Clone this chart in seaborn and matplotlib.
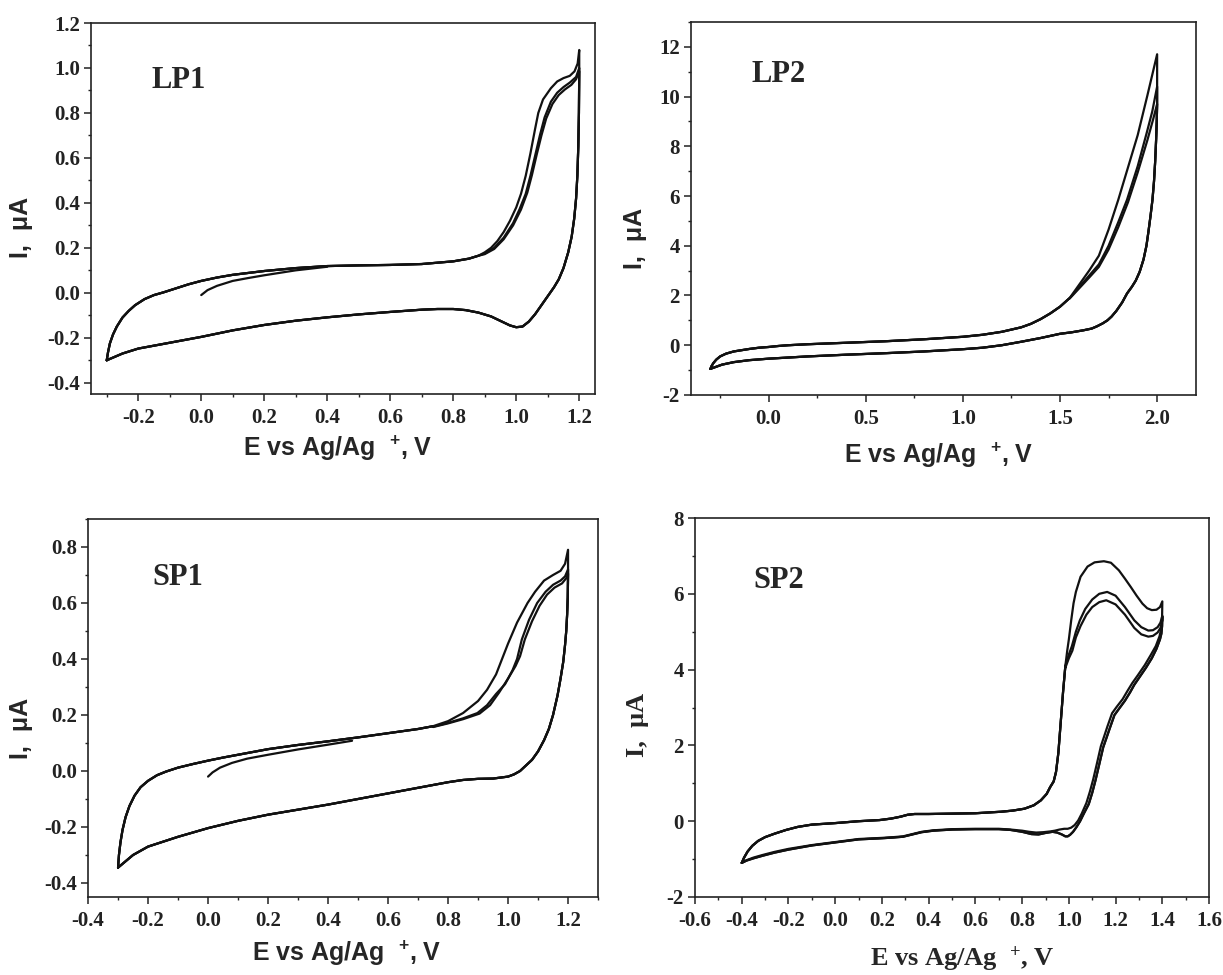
import matplotlib
matplotlib.use("Agg")
import numpy as np
import pandas as pd
import matplotlib.pyplot as plt
from matplotlib.ticker import MultipleLocator, FuncFormatter
import seaborn as sns

# ------------------------------------------------------------------
# LP1  (E in V, I in uA)
# ------------------------------------------------------------------
lp1_start_E = [0.00, 0.02, 0.05, 0.10, 0.15, 0.20, 0.30, 0.40]
lp1_start_I = [-0.010, 0.012, 0.031, 0.053, 0.066, 0.078, 0.100, 0.116]

lp1_fwd_E = [-0.300, -0.296, -0.290, -0.280, -0.268, -0.250, -0.230, -0.210, -0.180, -0.150,
             -0.120, -0.080, -0.040, 0.000, 0.050, 0.100, 0.200, 0.300, 0.400, 0.500,
             0.600, 0.700, 0.800, 0.850, 0.880]
lp1_fwd_I = [-0.300, -0.265, -0.225, -0.185, -0.150, -0.110, -0.080, -0.055, -0.028, -0.010,
             0.002, 0.020, 0.038, 0.053, 0.068, 0.080, 0.097, 0.110, 0.119, 0.122,
             0.124, 0.128, 0.140, 0.152, 0.165]

lp1_top1_E = [0.900, 0.920, 0.940, 0.960, 0.980, 1.000, 1.015, 1.030, 1.045, 1.060,
              1.070, 1.085, 1.110, 1.130, 1.150, 1.170, 1.185, 1.195, 1.200]
lp1_top1_I = [0.180, 0.200, 0.230, 0.270, 0.320, 0.380, 0.440, 0.520, 0.620, 0.730,
              0.800, 0.860, 0.910, 0.940, 0.955, 0.965, 0.985, 1.020, 1.080]
lp1_top2_E = [0.900, 0.930, 0.960, 0.990, 1.010, 1.030, 1.045, 1.060, 1.075, 1.090,
              1.110, 1.130, 1.150, 1.170, 1.190, 1.200]
lp1_top2_I = [0.175, 0.200, 0.245, 0.310, 0.370, 0.440, 0.520, 0.610, 0.700, 0.780,
              0.850, 0.890, 0.915, 0.935, 0.960, 1.000]
lp1_top3_E = [0.900, 0.930, 0.960, 0.990, 1.015, 1.035, 1.050, 1.065, 1.080, 1.095,
              1.115, 1.135, 1.155, 1.175, 1.190, 1.200]
lp1_top3_I = [0.172, 0.195, 0.238, 0.300, 0.370, 0.445, 0.525, 0.615, 0.700, 0.775,
              0.840, 0.880, 0.905, 0.925, 0.950, 0.985]

lp1_ret_E = [1.200, 1.199, 1.197, 1.194, 1.190, 1.184, 1.176, 1.165, 1.150, 1.135,
             1.120, 1.100, 1.080, 1.060, 1.040, 1.020, 1.000, 0.980, 0.950, 0.920,
             0.880, 0.840, 0.800, 0.750, 0.700, 0.600, 0.500, 0.400, 0.300, 0.200,
             0.100, 0.000, -0.100, -0.200, -0.250, -0.300]
lp1_ret_I = [0.980, 0.800, 0.650, 0.520, 0.420, 0.330, 0.250, 0.180, 0.110, 0.060,
             0.025, -0.015, -0.055, -0.095, -0.128, -0.150, -0.153, -0.145, -0.125, -0.105,
             -0.088, -0.077, -0.072, -0.072, -0.075, -0.085, -0.096, -0.109, -0.124, -0.143,
             -0.167, -0.196, -0.222, -0.248, -0.270, -0.300]

# ------------------------------------------------------------------
# LP2
# ------------------------------------------------------------------
lp2_fwd_E = [-0.300, -0.295, -0.285, -0.270, -0.250, -0.220, -0.180, -0.140, -0.100, -0.050,
             0.000, 0.050, 0.100, 0.200, 0.300, 0.400, 0.500, 0.600, 0.700, 0.800,
             0.900, 1.000, 1.100, 1.200, 1.300, 1.350, 1.400, 1.450, 1.500, 1.550]
lp2_fwd_I = [-0.95, -0.85, -0.72, -0.58, -0.45, -0.34, -0.25, -0.20, -0.15, -0.10,
             -0.07, -0.03, 0.00, 0.04, 0.07, 0.10, 0.13, 0.16, 0.20, 0.24,
             0.29, 0.34, 0.42, 0.54, 0.72, 0.86, 1.05, 1.28, 1.55, 1.90]

lp2_top1_E = [1.550, 1.600, 1.650, 1.700, 1.750, 1.800, 1.850, 1.900, 1.950, 2.000]
lp2_top1_I = [1.90, 2.45, 3.00, 3.60, 4.65, 5.85, 7.15, 8.45, 10.05, 11.70]
lp2_top2_E = [1.550, 1.600, 1.650, 1.700, 1.750, 1.800, 1.845, 1.900, 1.945, 1.975, 2.000]
lp2_top2_I = [1.90, 2.35, 2.80, 3.25, 4.00, 4.95, 5.85, 7.20, 8.50, 9.40, 10.40]
lp2_top3_E = [1.550, 1.600, 1.650, 1.700, 1.750, 1.800, 1.850, 1.900, 1.950, 1.980, 2.000]
lp2_top3_I = [1.88, 2.30, 2.72, 3.15, 3.85, 4.75, 5.75, 6.95, 8.25, 9.10, 9.70]

lp2_ret_E = [2.000, 1.998, 1.995, 1.990, 1.984, 1.976, 1.966, 1.955, 1.945, 1.930,
             1.910, 1.890, 1.870, 1.845, 1.820, 1.790, 1.765, 1.744, 1.720, 1.690,
             1.663, 1.620, 1.560, 1.500, 1.400, 1.300, 1.200, 1.100, 1.000, 0.800,
             0.600, 0.400, 0.200, 0.000, -0.100, -0.180, -0.240, -0.300]
lp2_ret_I = [9.70, 9.00, 8.30, 7.40, 6.60, 5.85, 5.20, 4.55, 4.00, 3.45,
             2.95, 2.60, 2.35, 2.08, 1.72, 1.38, 1.15, 1.00, 0.88, 0.76,
             0.67, 0.60, 0.52, 0.46, 0.29, 0.14, 0.00, -0.10, -0.16, -0.25,
             -0.32, -0.38, -0.45, -0.54, -0.60, -0.68, -0.78, -0.95]

# ------------------------------------------------------------------
# SP1
# ------------------------------------------------------------------
sp1_start_E = [0.000, 0.015, 0.040, 0.080, 0.130, 0.200, 0.300, 0.400, 0.480]
sp1_start_I = [-0.020, -0.005, 0.012, 0.029, 0.044, 0.058, 0.077, 0.094, 0.108]

sp1_fwd_E = [-0.300, -0.297, -0.292, -0.285, -0.275, -0.262, -0.245, -0.225, -0.200, -0.170,
             -0.140, -0.100, -0.050, 0.000, 0.050, 0.100, 0.200, 0.300, 0.400, 0.500,
             0.600, 0.700, 0.750]
sp1_fwd_I = [-0.345, -0.300, -0.255, -0.210, -0.165, -0.125, -0.088, -0.058, -0.035, -0.015,
             -0.002, 0.012, 0.025, 0.037, 0.048, 0.058, 0.078, 0.093, 0.106, 0.120,
             0.135, 0.150, 0.160]

sp1_top1_E = [0.750, 0.800, 0.850, 0.900, 0.930, 0.960, 0.980, 1.000, 1.014, 1.030,
              1.050, 1.065, 1.090, 1.120, 1.150, 1.175, 1.190, 1.200]
sp1_top1_I = [0.160, 0.178, 0.207, 0.250, 0.290, 0.345, 0.400, 0.455, 0.490, 0.530,
              0.570, 0.600, 0.640, 0.680, 0.700, 0.715, 0.740, 0.790]
sp1_top2_E = [0.750, 0.800, 0.850, 0.898, 0.930, 0.960, 0.990, 1.015, 1.030, 1.046,
              1.070, 1.097, 1.125, 1.150, 1.175, 1.190, 1.200]
sp1_top2_I = [0.158, 0.172, 0.188, 0.207, 0.235, 0.275, 0.310, 0.360, 0.400, 0.470,
              0.540, 0.600, 0.640, 0.665, 0.680, 0.695, 0.720]
sp1_top3_E = [0.750, 0.800, 0.850, 0.905, 0.940, 0.970, 1.000, 1.025, 1.040, 1.056,
              1.080, 1.105, 1.130, 1.155, 1.180, 1.195, 1.200]
sp1_top3_I = [0.157, 0.170, 0.185, 0.205, 0.235, 0.280, 0.330, 0.375, 0.410, 0.470,
              0.535, 0.590, 0.630, 0.655, 0.670, 0.690, 0.705]

sp1_ret_E = [1.200, 1.199, 1.197, 1.194, 1.190, 1.184, 1.175, 1.165, 1.150, 1.136,
             1.120, 1.100, 1.080, 1.060, 1.040, 1.020, 1.000, 0.950, 0.900, 0.850,
             0.800, 0.700, 0.600, 0.500, 0.400, 0.300, 0.200, 0.100, 0.000, -0.100,
             -0.200, -0.250, -0.300]
sp1_ret_I = [0.700, 0.620, 0.560, 0.500, 0.450, 0.390, 0.330, 0.270, 0.200, 0.150,
             0.110, 0.070, 0.040, 0.020, 0.000, -0.012, -0.020, -0.027, -0.028, -0.032,
             -0.040, -0.060, -0.080, -0.100, -0.120, -0.138, -0.156, -0.178, -0.204, -0.235,
             -0.270, -0.300, -0.345]

# ------------------------------------------------------------------
# SP2
# ------------------------------------------------------------------
sp2_fwd_E = [-0.400, -0.390, -0.375, -0.355, -0.330, -0.300, -0.260, -0.210, -0.160, -0.100,
             -0.050, 0.000, 0.100, 0.190, 0.240, 0.280, 0.310, 0.340, 0.400, 0.500,
             0.600, 0.710, 0.760, 0.810, 0.850, 0.880, 0.905, 0.920, 0.935, 0.945,
             0.955, 0.965, 0.975, 0.985]
sp2_fwd_I = [-1.10, -0.96, -0.80, -0.65, -0.52, -0.42, -0.33, -0.23, -0.15, -0.09,
             -0.07, -0.05, 0.00, 0.03, 0.07, 0.12, 0.17, 0.19, 0.19, 0.20,
             0.21, 0.25, 0.28, 0.33, 0.42, 0.55, 0.72, 0.90, 1.05, 1.30,
             1.80, 2.60, 3.40, 4.10]

sp2_top1_E = [0.985, 0.993, 1.000, 1.010, 1.020, 1.030, 1.050, 1.080, 1.110, 1.150,
              1.180, 1.214, 1.240, 1.265, 1.290, 1.315, 1.335, 1.355, 1.375, 1.390, 1.400]
sp2_top1_I = [4.10, 4.50, 4.80, 5.30, 5.75, 6.05, 6.45, 6.72, 6.83, 6.86,
              6.82, 6.62, 6.40, 6.18, 5.95, 5.74, 5.62, 5.57, 5.58, 5.65, 5.80]
sp2_top2_E = [0.985, 1.000, 1.013, 1.030, 1.047, 1.070, 1.100, 1.130, 1.164, 1.200,
              1.240, 1.280, 1.310, 1.340, 1.360, 1.380, 1.392, 1.400]
sp2_top2_I = [4.10, 4.40, 4.62, 5.00, 5.30, 5.60, 5.85, 6.00, 6.05, 5.95,
              5.65, 5.30, 5.12, 5.03, 5.04, 5.12, 5.24, 5.42]
sp2_top3_E = [0.985, 1.000, 1.015, 1.030, 1.050, 1.075, 1.100, 1.130, 1.160, 1.200,
              1.240, 1.280, 1.310, 1.340, 1.360, 1.380, 1.392, 1.400]
sp2_top3_I = [4.05, 4.30, 4.50, 4.85, 5.15, 5.45, 5.65, 5.78, 5.83, 5.72,
              5.45, 5.10, 4.93, 4.87, 4.89, 4.98, 5.10, 5.30]

sp2_ret1_E = [1.400, 1.399, 1.396, 1.388, 1.372, 1.350, 1.325, 1.295, 1.272, 1.252,
              1.230, 1.205, 1.185, 1.165, 1.150, 1.137, 1.120, 1.104, 1.090, 1.075,
              1.055, 1.040, 1.025, 1.010, 0.995, 0.980, 0.960, 0.940, 0.920, 0.890,
              0.860, 0.830, 0.800, 0.750, 0.700, 0.600, 0.500, 0.420, 0.370, 0.330,
              0.290, 0.250, 0.200, 0.100, 0.000, -0.100, -0.200, -0.260, -0.310, -0.350,
              -0.380, -0.400]
sp2_ret1_I = [5.80, 5.40, 5.10, 4.88, 4.62, 4.38, 4.12, 3.85, 3.65, 3.45,
              3.22, 3.02, 2.85, 2.50, 2.22, 1.98, 1.52, 1.10, 0.78, 0.48,
              0.20, 0.02, -0.10, -0.17, -0.20, -0.20, -0.22, -0.25, -0.27, -0.29,
              -0.30, -0.28, -0.25, -0.22, -0.20, -0.20, -0.21, -0.24, -0.28, -0.34,
              -0.40, -0.42, -0.44, -0.47, -0.55, -0.63, -0.73, -0.81, -0.89, -0.96,
              -1.03, -1.10]
sp2_ret23_E = [1.400, 1.399, 1.396, 1.390, 1.375, 1.355, 1.330, 1.300, 1.280, 1.262,
               1.240, 1.215, 1.195, 1.175, 1.160, 1.147, 1.130, 1.114, 1.100, 1.085,
               1.064, 1.048, 1.032, 1.018, 1.005, 0.995, 0.985, 0.970, 0.950, 0.930,
               0.900, 0.870, 0.840, 0.800, 0.750, 0.700, 0.600, 0.500, 0.420, 0.370,
               0.330, 0.290, 0.250, 0.200, 0.100, 0.000, -0.100, -0.200, -0.260, -0.310,
               -0.350, -0.380, -0.400]
sp2_ret23_I = [5.40, 5.15, 4.95, 4.80, 4.55, 4.30, 4.05, 3.78, 3.60, 3.40,
               3.18, 2.97, 2.80, 2.45, 2.18, 1.95, 1.50, 1.08, 0.75, 0.45,
               0.20, 0.00, -0.16, -0.28, -0.36, -0.40, -0.40, -0.35, -0.30, -0.28,
               -0.31, -0.35, -0.34, -0.28, -0.23, -0.21, -0.21, -0.22, -0.25, -0.29,
               -0.35, -0.41, -0.43, -0.45, -0.48, -0.56, -0.64, -0.75, -0.83, -0.91,
               -0.98, -1.04, -1.10]


def join(*parts):
    e, i = [], []
    for pe, pi in parts:
        e += list(pe)
        i += list(pi)
    return e, i


def to_frame(traces):
    frames = [pd.DataFrame({"E": e, "I": i, "trace": name}) for name, (e, i) in traces.items()]
    return pd.concat(frames, ignore_index=True)


lp1 = to_frame({
    "start": (lp1_start_E, lp1_start_I),
    "c1": join((lp1_fwd_E, lp1_fwd_I), (lp1_top1_E, lp1_top1_I), (lp1_ret_E, lp1_ret_I)),
    "c2": join((lp1_fwd_E, lp1_fwd_I), (lp1_top2_E, lp1_top2_I), (lp1_ret_E, lp1_ret_I)),
    "c3": join((lp1_fwd_E, lp1_fwd_I), (lp1_top3_E, lp1_top3_I), (lp1_ret_E, lp1_ret_I)),
})
lp2 = to_frame({
    "c1": join((lp2_fwd_E, lp2_fwd_I), (lp2_top1_E, lp2_top1_I), (lp2_ret_E, lp2_ret_I)),
    "c2": join((lp2_fwd_E, lp2_fwd_I), (lp2_top2_E, lp2_top2_I), (lp2_ret_E, lp2_ret_I)),
    "c3": join((lp2_fwd_E, lp2_fwd_I), (lp2_top3_E, lp2_top3_I), (lp2_ret_E, lp2_ret_I)),
})
sp1 = to_frame({
    "start": (sp1_start_E, sp1_start_I),
    "c1": join((sp1_fwd_E, sp1_fwd_I), (sp1_top1_E, sp1_top1_I), (sp1_ret_E, sp1_ret_I)),
    "c2": join((sp1_fwd_E, sp1_fwd_I), (sp1_top2_E, sp1_top2_I), (sp1_ret_E, sp1_ret_I)),
    "c3": join((sp1_fwd_E, sp1_fwd_I), (sp1_top3_E, sp1_top3_I), (sp1_ret_E, sp1_ret_I)),
})
sp2 = to_frame({
    "c1": join((sp2_fwd_E, sp2_fwd_I), (sp2_top1_E, sp2_top1_I), (sp2_ret1_E, sp2_ret1_I)),
    "c2": join((sp2_fwd_E, sp2_fwd_I), (sp2_top2_E, sp2_top2_I), (sp2_ret23_E, sp2_ret23_I)),
    "c3": join((sp2_fwd_E, sp2_fwd_I), (sp2_top3_E, sp2_top3_I), (sp2_ret23_E, sp2_ret23_I)),
})

# ------------------------------------------------------------------
# style
# ------------------------------------------------------------------
sns.set_style("ticks")
plt.rcParams.update({
    "font.family": ["Liberation Serif", "DejaVu Serif"],
    "font.weight": "bold",
    "axes.unicode_minus": False,
    "axes.linewidth": 1.2,
    "axes.edgecolor": "#222222",
    "xtick.direction": "out",
    "ytick.direction": "out",
    "xtick.color": "#222222",
    "ytick.color": "#222222",
    "mathtext.default": "regular",
})

SERIF = ["Liberation Serif", "DejaVu Serif"]
SANS = ["Liberation Sans", "DejaVu Sans"]
XLABEL = r"E vs Ag/Ag  $^{+}$, V"
YLABEL = "I,  \u03bcA"


def fmt(decimals):
    return FuncFormatter(lambda v, p: f"{round(v, decimals) + 0.0:.{decimals}f}")


def draw_panel(ax, df, tag, xlim, ylim, xmaj, xmin, ymaj, ymin, xdec, ydec,
               tag_xy, ylab_xy, xlab_xy, label_family, label_size):
    sns.lineplot(data=df, x="E", y="I", units="trace", estimator=None, sort=False,
                 color="#111111", lw=1.6, ax=ax)
    ax.set_xlim(*xlim)
    ax.set_ylim(*ylim)
    ax.xaxis.set_major_locator(MultipleLocator(xmaj))
    ax.xaxis.set_minor_locator(MultipleLocator(xmin))
    ax.yaxis.set_major_locator(MultipleLocator(ymaj))
    ax.yaxis.set_minor_locator(MultipleLocator(ymin))
    ax.xaxis.set_major_formatter(fmt(xdec))
    ax.yaxis.set_major_formatter(fmt(ydec))
    ax.tick_params(which="major", length=5, width=1.1, labelsize=15)
    ax.tick_params(which="minor", length=2.5, width=1.0)
    ax.tick_params(axis="x", which="major", pad=5)
    ax.tick_params(axis="y", which="major", pad=3)
    for lab in ax.get_xticklabels() + ax.get_yticklabels():
        lab.set_fontfamily(SERIF)
        lab.set_fontweight("bold")
    for side in ["top", "right", "left", "bottom"]:
        ax.spines[side].set_visible(True)
    ax.set_xlabel(XLABEL, family=label_family, fontweight="bold", fontsize=label_size, va="top")
    ax.set_ylabel(YLABEL, family=label_family, fontweight="bold", fontsize=label_size)
    ax.xaxis.set_label_coords(*xlab_xy)
    ax.yaxis.set_label_coords(*ylab_xy)
    ax.text(tag_xy[0], tag_xy[1], tag, transform=ax.transAxes, family=SERIF,
            fontweight="bold", fontsize=22, ha="left", va="center")


fig = plt.figure(figsize=(12.23, 9.75), dpi=100)

ax1 = fig.add_axes([0.0744, 0.5959, 0.4121, 0.3805])
draw_panel(ax1, lp1, "LP1", (-0.35, 1.25), (-0.45, 1.2), 0.2, 0.1, 0.2, 0.1, 1, 1,
           (0.12, 0.846), (-0.115, 0.45), (0.49, -0.108), SANS, 18)

ax2 = fig.add_axes([0.5650, 0.5949, 0.4129, 0.3826])
draw_panel(ax2, lp2, "LP2", (-0.4, 2.2), (-2, 13), 0.5, 0.25, 2, 1, 1, 0,
           (0.119, 0.858), (-0.087, 0.42), (0.49, -0.122), SANS, 18)

ax3 = fig.add_axes([0.0720, 0.0800, 0.4170, 0.3877])
draw_panel(ax3, sp1, "SP1", (-0.4, 1.3), (-0.45, 0.9), 0.2, 0.1, 0.2, 0.1, 1, 1,
           (0.127, 0.844), (-0.108, 0.447), (0.508, -0.11), SANS, 18)

ax4 = fig.add_axes([0.5683, 0.0800, 0.4203, 0.3887])
draw_panel(ax4, sp2, "SP2", (-0.6, 1.6), (-2, 8), 0.2, 0.1, 2, 1, 1, 0,
           (0.113, 0.836), (-0.089, 0.454), (0.52, -0.125), SERIF, 19)

fig.savefig("out.png", dpi=100, facecolor="white")
